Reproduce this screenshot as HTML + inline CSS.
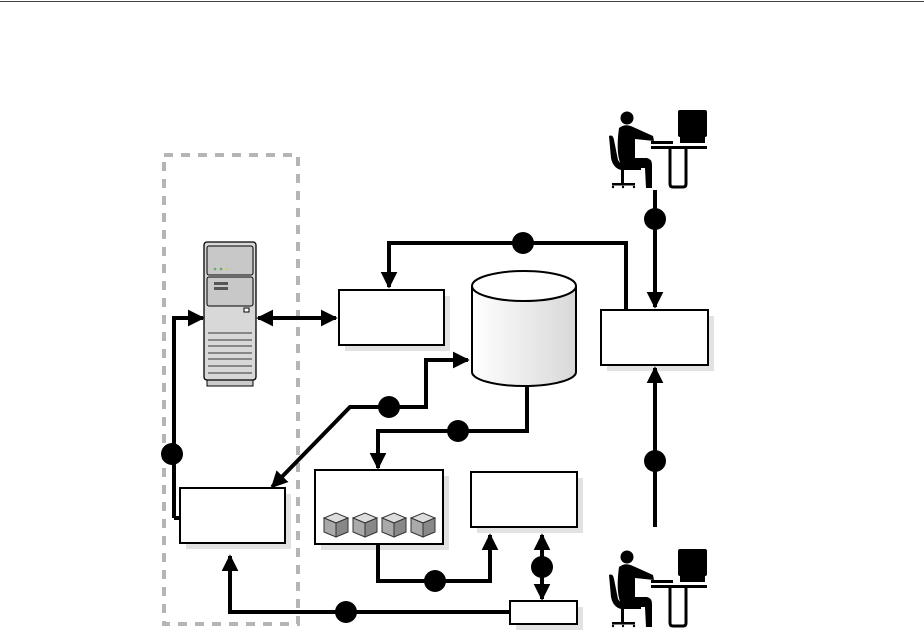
<!DOCTYPE html>
<html><head><style>body{margin:0;background:#fff}svg{display:block}</style></head><body>
<svg width="924" height="638" viewBox="0 0 924 638" xmlns="http://www.w3.org/2000/svg">
<defs>
<marker id="a" viewBox="0 0 10 10" refX="9" refY="5" markerWidth="4.2" markerHeight="4.2" orient="auto-start-reverse"><path d="M0,0L10,5L0,10z" fill="#000"/></marker>
<linearGradient id="cyl" x1="0" x2="1"><stop offset="0" stop-color="#fff"/><stop offset="1" stop-color="#d8d8d8"/></linearGradient>
<g id="user">
<circle cx="22" cy="10" r="6.5"/>
<path d="M14,20 Q20,15 28,19 L48,28 L49,33 L30,31 L30,50 L42,50 Q47,51 47,57 L47,80 L41,80 L40,60 L18,60 Q10,50 14,20Z"/>
<path d="M4,28 Q8,26 9,32 L13,52 Q15,56 20,56 L36,56 L36,62 L16,62 Q8,60 6,50 Z"/>
<rect x="16" y="62" width="3" height="14"/><rect x="7" y="75" width="23" height="2.5"/>
<circle cx="8" cy="79" r="1.2"/><circle cx="18" cy="79" r="1.2"/><circle cx="29" cy="79" r="1.2"/>
<rect x="46" y="38" width="56" height="3"/>
<rect x="46" y="33" width="22" height="3"/>
<rect x="73" y="2" width="29" height="27" rx="2"/>
<rect x="75" y="29" width="25" height="6"/>
<path d="M65,41 L65,76 Q65,79 68,79 L78,79 Q81,79 81,76 L81,41" fill="none" stroke="#000" stroke-width="3"/>
</g>
<g id="cube"><path d="M0,5 L12,0 L24,5 L12,10Z" fill="#ddd" stroke="#333"/><path d="M0,5 L12,10 L12,24 L0,19Z" fill="#aaa" stroke="#333"/><path d="M24,5 L12,10 L12,24 L24,19Z" fill="#888" stroke="#333"/></g>
</defs>
<line x1="0" y1="1.5" x2="924" y2="1.5" stroke="#444" stroke-width="1"/>
<rect x="164" y="155" width="134" height="469" fill="none" stroke="#b5b5b5" stroke-width="4" stroke-dasharray="9,8"/>
<!-- server -->
<rect x="207" y="377" width="46" height="9" fill="#ccc" stroke="#000"/>
<rect x="204" y="242" width="52" height="138" rx="3" fill="#d8d8d8" stroke="#000" stroke-width="1.3"/>
<rect x="207" y="246" width="46" height="29" rx="2" fill="#c8c8c8" stroke="#000"/>
<rect x="207" y="277" width="46" height="29" rx="2" fill="#c8c8c8" stroke="#000"/>
<rect x="214" y="282" width="14" height="3" fill="#555"/><rect x="214" y="287" width="14" height="3" fill="#555"/>
<circle cx="215" cy="269" r="1.3" fill="#6a6"/><circle cx="221" cy="269" r="1.3" fill="#6a6"/><circle cx="227" cy="269" r="1.3" fill="#cc6"/>
<rect x="244" y="308" width="5" height="4" fill="#fff" stroke="#000"/>
<g stroke="#000" stroke-width="0.8"><line x1="208" y1="333" x2="252" y2="333"/><line x1="208" y1="340" x2="252" y2="340"/><line x1="208" y1="346" x2="252" y2="346"/><line x1="208" y1="353" x2="252" y2="353"/><line x1="208" y1="359" x2="252" y2="359"/><line x1="208" y1="366" x2="252" y2="366"/><line x1="208" y1="373" x2="252" y2="373"/></g>
<!-- boxes with shadows -->
<g fill="#e2e2e2">
<rect x="345" y="296" width="105" height="55"/><rect x="607" y="316" width="107" height="55"/>
<rect x="186" y="494" width="105" height="55"/><rect x="321" y="476" width="128" height="74"/>
<rect x="477" y="478" width="106" height="55"/><rect x="516" y="607" width="67" height="23"/>
</g>
<g fill="#fff" stroke="#000" stroke-width="2">
<rect x="339" y="290" width="105" height="55"/><rect x="601" y="310" width="107" height="55"/>
<rect x="180" y="488" width="105" height="55"/><rect x="315" y="470" width="128" height="74"/>
<rect x="471" y="472" width="106" height="55"/><rect x="510" y="601" width="67" height="23"/>
</g>
<g transform="translate(324,513)"><use href="#cube"/><use href="#cube" x="29"/><use href="#cube" x="58"/><use href="#cube" x="87"/></g>
<!-- cylinder -->
<path d="M472,286 L472,372 A52,14 0 0 0 576,372 L576,286" fill="url(#cyl)" stroke="#000" stroke-width="2"/>
<ellipse cx="524" cy="286" rx="52" ry="15" fill="#fff" stroke="#000" stroke-width="2"/>
<!-- users -->
<use href="#user" x="605" y="108"/>
<use href="#user" x="605" y="547"/>
<!-- connectors -->
<g fill="none" stroke="#000" stroke-width="4">
<path d="M258,318 L336,318" marker-start="url(#a)" marker-end="url(#a)"/>
<path d="M174,518 L174,318 L203,318" marker-end="url(#a)"/>
<line x1="174" y1="518" x2="180" y2="518"/>
<path d="M626,310 L626,243 L389,243 L389,287" marker-end="url(#a)"/>
<path d="M655,190 L655,307" marker-end="url(#a)"/>
<path d="M655,527 L655,368" marker-end="url(#a)"/>
<path d="M527,386 L527,431 L378,431 L378,468" marker-end="url(#a)"/>
<path d="M378,544 L378,581 L490,581 L490,535" marker-end="url(#a)"/>
<path d="M542,599 L542,535" marker-start="url(#a)" marker-end="url(#a)"/>
<path d="M510,612 L230,612 L230,556" marker-end="url(#a)"/>
<path d="M272,487 L350,407 L426,407 L426,360 L468,360" marker-start="url(#a)" marker-end="url(#a)"/>
</g>
<g fill="#000">
<circle cx="172" cy="454" r="11"/><circle cx="523" cy="243" r="11"/><circle cx="655" cy="219" r="11"/>
<circle cx="655" cy="461" r="11"/><circle cx="458" cy="431" r="11"/><circle cx="389" cy="407" r="11"/>
<circle cx="435" cy="581" r="11"/><circle cx="542" cy="567" r="11"/><circle cx="346" cy="612" r="11"/>
</g>
</svg>
</body></html>
